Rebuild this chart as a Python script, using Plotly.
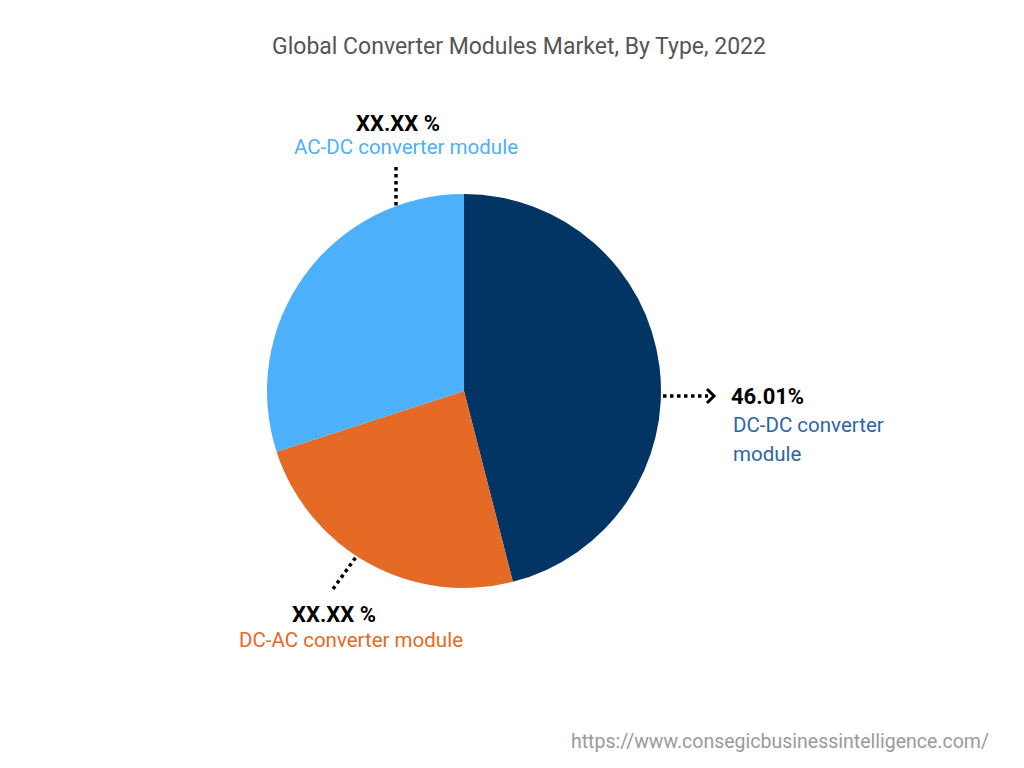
import plotly.graph_objects as go

categories = ["DC-DC converter module", "DC-AC converter module", "AC-DC converter module"]
values = [46.01, 24.00, 29.99]
value_labels = ["46.01%", "XX.XX %", "XX.XX %"]
colors = ["#023564", "#E46A25", "#4DB0FB"]
label_colors = ["#2D65A6", "#E46A25", "#4DB0FB"]

W, H = 1024, 768
cx, cy, r = 464, 391, 197

def px(x):
    return x / W

def py(y):
    return 1 - y / H

fig = go.Figure()
fig.add_trace(go.Pie(
    labels=categories,
    values=values,
    marker=dict(colors=colors, line=dict(width=0)),
    sort=False,
    direction="clockwise",
    rotation=0,
    textinfo="none",
    hoverinfo="label+percent",
    showlegend=False,
    domain=dict(x=[px(cx - r), px(cx + r)], y=[py(cy + r), py(cy - r)]),
))

font_family = "Roboto, Inter, sans-serif"
ann = []
# title
ann.append(dict(x=px(519), y=py(46), text="Global Converter Modules Market, By Type, 2022",
                showarrow=False, xanchor="center", yanchor="middle",
                font=dict(size=23, color="#555555", family=font_family)))
# AC-DC
ann.append(dict(x=px(398), y=py(123), text="<b>" + value_labels[2] + "</b>", showarrow=False,
                xanchor="center", yanchor="middle", font=dict(size=22, color="#000000", family=font_family)))
ann.append(dict(x=px(406), y=py(147), text=categories[2], showarrow=False,
                xanchor="center", yanchor="middle", font=dict(size=20.5, color=label_colors[2], family=font_family)))
# DC-DC
ann.append(dict(x=px(729), y=py(396), text="<b>" + value_labels[0] + "</b>", showarrow=False,
                xanchor="left", yanchor="middle", font=dict(size=22, color="#000000", family=font_family)))
ann.append(dict(x=px(731), y=py(425), text="DC-DC converter", showarrow=False,
                xanchor="left", yanchor="middle", font=dict(size=20.5, color=label_colors[0], family=font_family)))
ann.append(dict(x=px(731), y=py(454), text="module", showarrow=False,
                xanchor="left", yanchor="middle", font=dict(size=20.5, color=label_colors[0], family=font_family)))
# DC-AC
ann.append(dict(x=px(334), y=py(614), text="<b>" + value_labels[1] + "</b>", showarrow=False,
                xanchor="center", yanchor="middle", font=dict(size=22, color="#000000", family=font_family)))
ann.append(dict(x=px(351), y=py(640), text=categories[1], showarrow=False,
                xanchor="center", yanchor="middle", font=dict(size=20.5, color=label_colors[1], family=font_family)))
# url
ann.append(dict(x=px(991), y=py(741), text="https://www.consegicbusinessintelligence.com/", showarrow=False,
                xanchor="right", yanchor="middle", font=dict(size=19.5, color="#9A9A9A", family=font_family)))

shapes = []
dot = dict(color="#000000", width=3.5, dash="dot")
shapes.append(dict(type="line", xref="paper", yref="paper",
                   x0=px(396), y0=py(167), x1=px(396), y1=py(206), line=dot))
shapes.append(dict(type="line", xref="paper", yref="paper",
                   x0=px(663), y0=py(396), x1=px(708), y1=py(396), line=dot))
shapes.append(dict(type="line", xref="paper", yref="paper",
                   x0=px(333), y0=py(589), x1=px(356), y1=py(557), line=dot))
shapes.append(dict(type="path", xref="paper", yref="paper",
                   path=f"M {px(707)} {py(389)} L {px(714)} {py(396)} L {px(707)} {py(403)}",
                   line=dict(color="#000000", width=3)))

fig.update_layout(
    width=W, height=H,
    margin=dict(l=0, r=0, t=0, b=0),
    paper_bgcolor="#FFFFFF",
    plot_bgcolor="#FFFFFF",
    annotations=ann,
    shapes=shapes,
)

fig.write_html("out.html")
